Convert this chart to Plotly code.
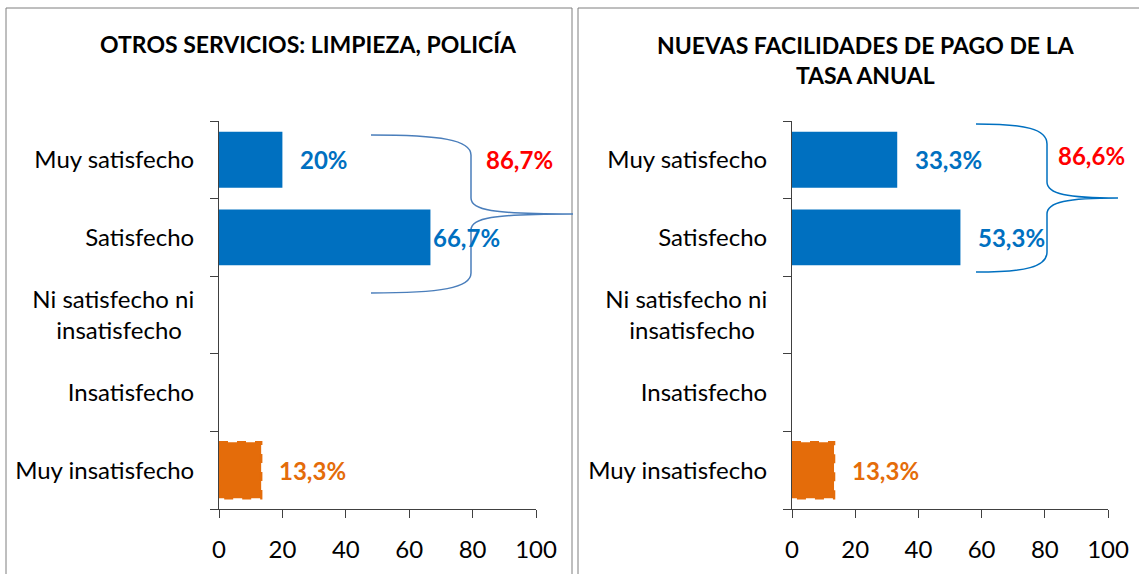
import plotly.graph_objects as go

W, H = 1139, 574

categories = ["Muy satisfecho", "Satisfecho", "Ni satisfecho ni insatisfecho", "Insatisfecho", "Muy insatisfecho"]
tick_labels = ["Muy satisfecho", "Satisfecho", "Ni satisfecho ni<br>insatisfecho  ", "Insatisfecho", "Muy insatisfecho"]

left_title = "OTROS SERVICIOS: LIMPIEZA, POLICÍA"
left_values = [20.0, 66.7, None, None, 13.3]
left_labels = ["20%", "66,7%", None, None, "13,3%"]
left_total = "86,7%"

right_title = "NUEVAS FACILIDADES DE PAGO DE LA<br>TASA ANUAL"
right_values = [33.3, 53.3, None, None, 13.3]
right_labels = ["33,3%", "53,3%", None, None, "13,3%"]
right_total = "86,6%"

BLUE = "#0070C0"
ORANGE = "#E46C0A"
RED = "#FF0000"
BRACE = "#4A7EBB"
FONT = "Lato, Carlito, 'Liberation Sans', sans-serif"

def px(x):
    return x / W

def py(y):
    return 1 - y / H

fig = go.Figure()

panels = [
    dict(vals=left_values, labels=left_labels, xa="x", ya="y", shifts=[16, 1, 0, 0, 16]),
    dict(vals=right_values, labels=right_labels, xa="x2", ya="y2", shifts=[16, 16, 0, 0, 16]),
]

for p in panels:
    colors = [ORANGE if c == "Muy insatisfecho" else BLUE for c in categories]
    fig.add_trace(go.Bar(
        y=categories, x=p["vals"], orientation="h", width=0.72,
        marker=dict(color=colors, line=dict(width=0)),
        xaxis=p["xa"], yaxis=p["ya"], showlegend=False, hoverinfo="skip",
    ))
    for c, v, lab, sh in zip(categories, p["vals"], p["labels"], p["shifts"]):
        if v is None:
            continue
        col = ORANGE if c == "Muy insatisfecho" else BLUE
        fig.add_annotation(
            x=v, y=c, xref=p["xa"], yref=p["ya"], text="<b>%s</b>" % lab,
            showarrow=False, xanchor="left", yanchor="middle", xshift=sh,
            font=dict(family=FONT, size=24, color=col),
        )
        if c == "Muy insatisfecho":
            idx = categories.index(c)
            fig.add_shape(type="rect", xref=p["xa"], yref=p["ya"],
                          x0=0, x1=v, y0=idx - 0.36, y1=idx + 0.36,
                          line=dict(color=ORANGE, width=2.5, dash="dash"),
                          fillcolor="rgba(0,0,0,0)")

axis_common = dict(
    showgrid=False, zeroline=False, showline=True, linecolor="#404040", linewidth=1,
    ticks="outside", ticklen=8, tickcolor="#404040", automargin=False,
)
xfont = dict(family=FONT, size=24, color="#000000")
yfont = dict(family=FONT, size=24, color="#000000")

ydom = [py(509), py(121)]
fig.update_layout(
    width=W, height=H, margin=dict(l=0, r=0, t=0, b=0),
    paper_bgcolor="white", plot_bgcolor="white",
    xaxis=dict(domain=[px(219), px(536)], range=[0, 100], tickvals=[0, 20, 40, 60, 80, 100],
               anchor="y", ticklabelstandoff=11, tickfont=xfont, **axis_common),
    yaxis=dict(domain=ydom, categoryorder="array", categoryarray=categories, autorange="reversed",
               tickvals=categories, ticktext=tick_labels, tickson="boundaries",
               anchor="x", ticklabelstandoff=19, tickfont=yfont, **axis_common),
    xaxis2=dict(domain=[px(792), px(1108)], range=[0, 100], tickvals=[0, 20, 40, 60, 80, 100],
                anchor="y2", ticklabelstandoff=11, tickfont=xfont, **axis_common),
    yaxis2=dict(domain=ydom, categoryorder="array", categoryarray=categories, autorange="reversed",
                tickvals=categories, ticktext=tick_labels, tickson="boundaries",
                anchor="x2", ticklabelstandoff=19, tickfont=yfont, **axis_common),
    bargap=0.28,
)

# panel borders
fig.add_shape(type="rect", xref="paper", yref="paper", x0=px(6), x1=px(572), y0=py(580), y1=py(8),
              line=dict(color="#7F7F7F", width=1), layer="below")
fig.add_shape(type="rect", xref="paper", yref="paper", x0=px(578), x1=px(1145), y0=py(580), y1=py(8),
              line=dict(color="#7F7F7F", width=1), layer="below")

# titles
fig.add_annotation(x=px(308), y=py(44), xref="paper", yref="paper", text="<b>%s</b>" % left_title,
                   showarrow=False, xanchor="center", yanchor="middle",
                   font=dict(family=FONT, size=23, color="#000"))
fig.add_annotation(x=px(866), y=py(60), xref="paper", yref="paper", text="<b>%s</b>" % right_title,
                   showarrow=False, xanchor="center", yanchor="middle",
                   font=dict(family=FONT, size=23, color="#000"))

# braces
def brace(x0, xs, xt, y0, ym, y1, color):
    pts = [
        ("M", [(x0, y0)]),
        ("C", [(x0 + 0.7 * (xs - x0), y0), (xs, y0 + 5), (xs, y0 + 20)]),
        ("L", [(xs, ym - 16)]),
        ("C", [(xs, ym - 4), (xs + 20, ym), (xt, ym)]),
        ("C", [(xs + 20, ym), (xs, ym + 4), (xs, ym + 16)]),
        ("L", [(xs, y1 - 20)]),
        ("C", [(xs, y1 - 5), (x0 + 0.7 * (xs - x0), y1), (x0, y1)]),
    ]
    s = ""
    for cmd, coords in pts:
        s += cmd + " " + " ".join("%.5f,%.5f" % (px(a), py(b)) for a, b in coords) + " "
    fig.add_shape(type="path", xref="paper", yref="paper", path=s.strip(),
                  line=dict(color=color, width=1.5))

brace(371, 471, 573, 135, 214, 293, BRACE)
brace(976, 1047, 1118, 124, 198, 272, BLUE)

fig.add_annotation(x=px(519), y=py(160), xref="paper", yref="paper", text="<b>%s</b>" % left_total,
                   showarrow=False, xanchor="center", yanchor="middle",
                   font=dict(family=FONT, size=24, color=RED))
fig.add_annotation(x=px(1091), y=py(155), xref="paper", yref="paper", text="<b>%s</b>" % right_total,
                   showarrow=False, xanchor="center", yanchor="middle",
                   font=dict(family=FONT, size=24, color=RED))

fig.write_html("out.html", config={"displayModeBar": False},
               post_script="document.body.style.margin='0';")
